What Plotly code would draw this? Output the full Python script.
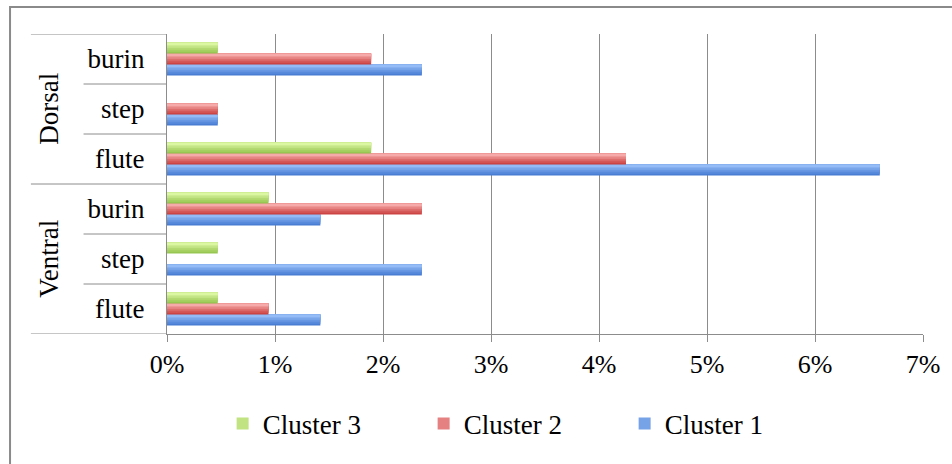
import plotly.graph_objects as go

# Categories listed bottom to top, with their outer group
categories = ["flute", "step", "burin", "flute", "step", "burin"]
category_group = ["Ventral", "Ventral", "Ventral", "Dorsal", "Dorsal", "Dorsal"]

# Share of pieces (%) per cluster
series_names = ["Cluster 1", "Cluster 2", "Cluster 3"]
cluster1 = [1.42, 2.36, 1.42, 6.60, 0.47, 2.36]
cluster2 = [0.94, 0.00, 2.36, 4.25, 0.47, 1.89]
cluster3 = [0.47, 0.47, 0.94, 1.89, 0.00, 0.47]
x_ticks = [0, 1, 2, 3, 4, 5, 6, 7]
x_tick_labels = [f"{t}%" for t in x_ticks]

series_values = [cluster1, cluster2, cluster3]
# bottom / top colours of each bar's vertical gradient
series_colors = [
    ((73, 125, 212), (148, 188, 246)),
    ((205, 68, 68), (246, 170, 170)),
    ((152, 198, 82), (220, 247, 162)),
]

FONT = "Liberation Serif"
GRAY = "#8c8c8c"
W, H = 952, 464
L, R, T, B = 167, 24, 34, 130
PW, PH = W - L - R, H - T - B

group_width = 0.66
bar_w = group_width / len(series_values)
n_bands = 6

fig = go.Figure()
ypos = list(range(len(categories)))


def mix(c0, c1, f):
    return "rgb({},{},{})".format(*[round(a + (b - a) * f) for a, b in zip(c0, c1)])


for k, (name, vals, (c_bot, c_top)) in enumerate(zip(series_names, series_values, series_colors)):
    base = -group_width / 2 + k * bar_w
    for j in range(n_bands):
        frac = j / (n_bands - 1)
        fig.add_trace(go.Bar(
            x=vals, y=ypos, orientation="h",
            offset=base + bar_w * j / n_bands,
            width=bar_w * (n_bands - j) / n_bands,
            marker=dict(color=mix(c_bot, c_top, frac), line=dict(width=0)),
            name=name, legendgroup=name,
            showlegend=(j == n_bands // 2),
            hoverinfo="skip",
        ))

shapes = []
# category separators on the left side; longer ones at group borders
n = len(categories)
for b in range(n + 1):
    is_group_edge = b in (0, n) or category_group[b - 1] != category_group[b]
    x0 = (30 - L) / PW if is_group_edge else (83 - L) / PW
    shapes.append(dict(type="line", xref="paper", yref="y", x0=x0, x1=0,
                       y0=b - 0.5, y1=b - 0.5, line=dict(color=GRAY, width=1)))
# chart border
shapes.append(dict(type="rect", xref="paper", yref="paper",
                   x0=(9 - L) / PW, x1=1.2, y0=-0.6, y1=(H - B - 7) / PH,
                   line=dict(color="#8a8a8a", width=2), fillcolor="rgba(0,0,0,0)"))

annotations = []
for g in dict.fromkeys(category_group):
    idx = [i for i, c in enumerate(category_group) if c == g]
    annotations.append(dict(text=g, xref="paper", yref="y",
                            x=(48 - L) / PW, y=sum(idx) / len(idx),
                            xanchor="center", yanchor="middle",
                            textangle=-90, showarrow=False,
                            font=dict(family=FONT, size=27, color="black")))

fig.update_layout(
    width=W, height=H,
    margin=dict(l=L, r=R, t=T, b=B, pad=0),
    paper_bgcolor="white", plot_bgcolor="white",
    barmode="overlay",
    font=dict(family=FONT, size=27, color="black"),
    xaxis=dict(range=[0, 7], tickvals=x_ticks, ticktext=x_tick_labels,
               showgrid=True, gridcolor=GRAY, gridwidth=1,
               showline=True, linecolor=GRAY, linewidth=1,
               ticks="outside", ticklen=7, tickcolor=GRAY,
               ticklabelstandoff=0, zeroline=False,
               tickfont=dict(family=FONT, size=26, color="black")),
    yaxis=dict(range=[-0.5, n - 0.5], tickvals=ypos, ticktext=categories,
               showgrid=False, showline=True, linecolor=GRAY, linewidth=1,
               ticks="", zeroline=False, ticklabelstandoff=16,
               tickfont=dict(family=FONT, size=27, color="black")),
    legend=dict(orientation="h", traceorder="reversed",
                x=(223 - L) / PW, xanchor="left",
                y=(H - B - 424) / PH, yanchor="middle",
                entrywidth=156, entrywidthmode="pixels",
                font=dict(family=FONT, size=27, color="black"),
                bgcolor="rgba(0,0,0,0)"),
    shapes=shapes,
    annotations=annotations,
    showlegend=True,
)

fig.write_html("out.html")
